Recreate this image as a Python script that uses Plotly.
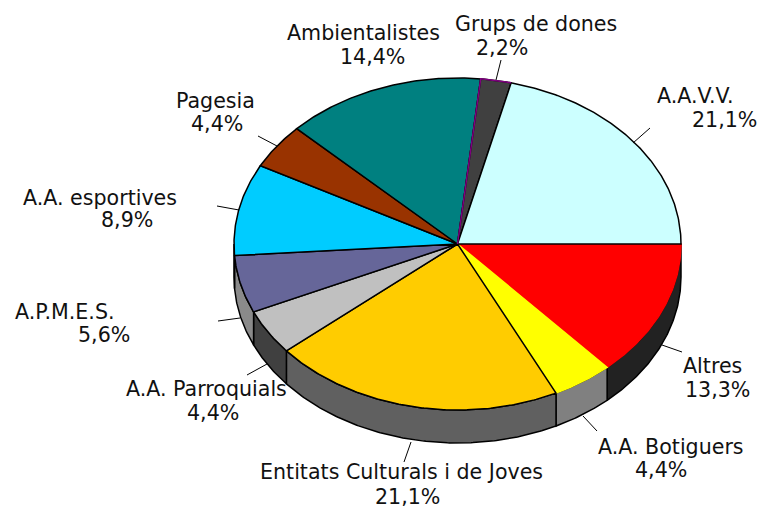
import numpy as np
import plotly.graph_objects as go

# Slices clockwise from 3 o'clock
categories = ["Altres", "A.A. Botiguers", "Entitats Culturals i de Joves", "A.A. Parroquials",
              "A.P.M.E.S.", "A.A. esportives", "Pagesia", "Ambientalistes", "Grups de dones", "A.A.V.V."]
values = [13.3, 4.4, 21.1, 4.4, 5.6, 8.9, 4.4, 14.4, 2.2, 21.1]
value_labels = ["13,3%", "4,4%", "21,1%", "4,4%", "5,6%", "8,9%", "4,4%", "14,4%", "2,2%", "21,1%"]

top_colors = ["#FF0000", "#FFFF00", "#FFCC00", "#C0C0C0", "#666699",
              "#00CCFF", "#993300", "#008080", "#404040", "#CCFFFF"]
side_colors = ["#222222", "#808080", "#606060", "#404040", "#8A8A8A",
               "#303030", "#404040", "#404040", "#404040", "#404040"]
edge_colors = ["#FF0000", "#FFFF00", "#000000", "#000000", "#000000",
               "#000000", "#000000", "#000000", "#000000", "#000000"]

# Pie geometry in picture pixels
CX, CY = 457.5, 244
RX, RY = 223.5, 166
DEPTH = 33

# Label placement: name (x, y), value (x, y), leader line (x0, y0, x1, y1)
name_pos = [(712, 366), (671, 447), (401, 472), (206, 389), (65, 312),
            (100, 198), (215, 101), (363, 33), (536, 24), (695, 96)]
value_pos = [(717, 390), (661, 470), (407, 497), (213, 413), (104, 335),
             (127, 220), (217, 124), (372, 57), (502, 48), (724, 120)]
leaders = [(682, 352, 662, 345), (597, 431, 583, 416), (404, 462, 411, 442), (247, 375, 267, 364),
           (218, 321, 240, 318), (217, 206, 239, 210), (258, 136, 277, 146), None,
           (501, 60, 496, 80), (650, 128, 633, 143)]

FONT = dict(family="DejaVu Sans", size=20.6, color="#111111")


def arc(a0, a1, dy=0.0):
    t = np.radians(np.linspace(a0, a1, max(int(abs(a1 - a0)) * 2, 2)))
    return CX + RX * np.cos(t), CY + RY * np.sin(t) + dy


shares = np.array(values) / sum(values)
edges = np.concatenate([[0], np.cumsum(shares)]) * 360

fig = go.Figure()

# Side walls first, only the front half shows
for i, name in enumerate(categories):
    a0, a1 = edges[i], min(edges[i + 1], 180)
    if a0 >= 180:
        continue
    x0, y0 = arc(a0, a1)
    x1, y1 = arc(a1, a0, DEPTH)
    fig.add_trace(go.Scatter(
        x=np.concatenate([x0, x1, x0[:1]]),
        y=np.concatenate([y0, y1, y0[:1]]),
        fill="toself",
        fillcolor=side_colors[i],
        mode="lines",
        line=dict(color="#000000", width=1.5),
        hoverinfo="skip",
    ))

# Top face
for i, name in enumerate(categories):
    x, y = arc(edges[i], edges[i + 1])
    fig.add_trace(go.Scatter(
        x=np.concatenate([[CX], x, [CX]]),
        y=np.concatenate([[CY], y, [CY]]),
        fill="toself",
        fillcolor=top_colors[i],
        mode="lines",
        line=dict(color=edge_colors[i], width=1.5),
        name=name,
        hoverinfo="skip",
    ))

# Grups de dones has a purple top and left edge
x, y = arc(edges[8], edges[9])
fig.add_trace(go.Scatter(
    x=np.concatenate([[CX], x]),
    y=np.concatenate([[CY], y]),
    mode="lines",
    line=dict(color="#800080", width=1.5),
    hoverinfo="skip",
))

for i, name in enumerate(categories):
    fig.add_annotation(x=name_pos[i][0], y=name_pos[i][1], text=name, showarrow=False, font=FONT)
    fig.add_annotation(x=value_pos[i][0], y=value_pos[i][1], text=value_labels[i], showarrow=False, font=FONT)
    if leaders[i]:
        x0, y0, x1, y1 = leaders[i]
        fig.add_shape(type="line", x0=x0, y0=y0, x1=x1, y1=y1, line=dict(color="#000000", width=1))

fig.update_layout(
    width=760,
    height=509,
    margin=dict(l=0, r=0, t=0, b=0),
    showlegend=False,
    paper_bgcolor="#FFFFFF",
    plot_bgcolor="#FFFFFF",
    xaxis=dict(range=[0, 760], visible=False),
    yaxis=dict(range=[509, 0], visible=False),
)

fig.write_html(
    "out.html",
    config=dict(displayModeBar=False),
    post_script="document.body.style.margin='0';document.body.style.overflow='hidden';",
)
